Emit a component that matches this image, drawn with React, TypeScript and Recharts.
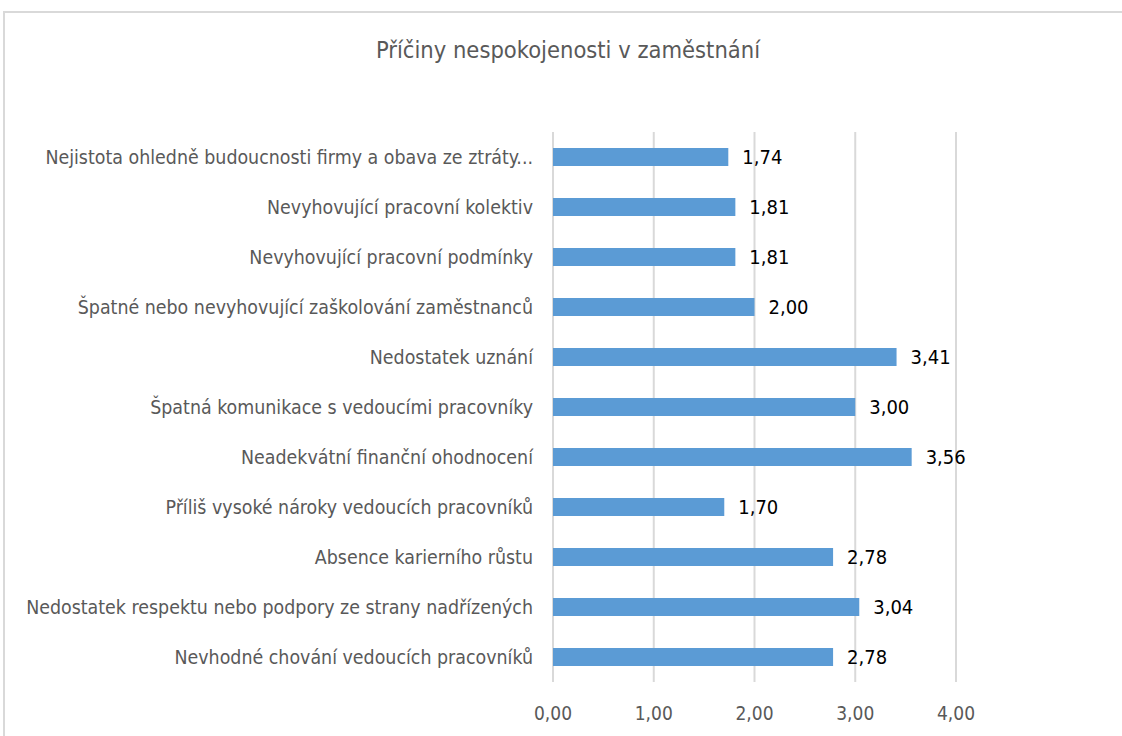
import React from 'react';
import { BarChart, Bar, XAxis, YAxis, CartesianGrid, LabelList } from 'recharts';

// Reasons for job dissatisfaction, top-to-bottom as shown in the chart
const categories = [
  'Nejistota ohledně budoucnosti firmy a obava ze ztráty...',
  'Nevyhovující pracovní kolektiv',
  'Nevyhovující pracovní podmínky',
  'Špatné nebo nevyhovující zaškolování zaměstnanců',
  'Nedostatek uznání',
  'Špatná komunikace s vedoucími pracovníky',
  'Neadekvátní finanční ohodnocení',
  'Příliš vysoké nároky vedoucích pracovníků',
  'Absence karierního růstu',
  'Nedostatek respektu nebo podpory ze strany nadřízených',
  'Nevhodné chování vedoucích pracovníků',
];

const scores = [1.74, 1.81, 1.81, 2.0, 3.41, 3.0, 3.56, 1.7, 2.78, 3.04, 2.78];

const xTicks = [0, 1, 2, 3, 4];

const data = categories.map((name, i) => ({ name, value: scores[i] }));

const FONT = '"Liberation Sans Narrow", "DejaVu Sans Condensed", sans-serif';

const fmt = (v: number) => v.toFixed(2).replace('.', ',');

const App: React.FC = () => {
  return (
    <div style={{ position: 'absolute', left: 0, top: 0, width: 1122, height: 736, background: '#fff', fontFamily: FONT }}>
      {/* chart frame (only top and left edges are visible) */}
      <div
        style={{
          position: 'absolute',
          left: 3,
          top: 11,
          width: 1119,
          height: 725,
          borderTop: '2px solid #d9d9d9',
          borderLeft: '2px solid #d9d9d9',
          boxSizing: 'border-box',
        }}
      />
      <div
        style={{
          position: 'absolute',
          top: 36,
          left: 0,
          width: 1136,
          textAlign: 'center',
          fontSize: 23.5,
          color: '#595959',
        }}
      >
        Příčiny nespokojenosti v zaměstnání
      </div>
      <BarChart
        width={1122}
        height={736}
        data={data}
        layout="vertical"
        margin={{ top: 132, right: 166, bottom: 0, left: 0 }}
        style={{ position: 'absolute', left: 0, top: 0 }}
      >
        <CartesianGrid horizontal={false} stroke="#d9d9d9" strokeWidth={2} />
        <XAxis
          type="number"
          domain={[0, 4]}
          ticks={xTicks}
          tickFormatter={fmt}
          axisLine={false}
          tickLine={false}
          tickMargin={19}
          height={54}
          tick={{ fill: '#595959', fontSize: 19, fontFamily: FONT }}
        />
        <YAxis
          type="category"
          dataKey="name"
          width={553}
          axisLine={false}
          tickLine={false}
          tickMargin={14}
          interval={0}
          tick={{ fill: '#595959', fontSize: 19.4, fontFamily: FONT }}
        />
        <Bar dataKey="value" fill="#5b9bd5" barSize={18} isAnimationActive={false}>
          <LabelList
            dataKey="value"
            position="right"
            offset={14}
            formatter={(v: any) => fmt(Number(v))}
            style={{ fill: '#000', fontSize: 20, fontFamily: FONT }}
          />
        </Bar>
      </BarChart>
    </div>
  );
};

export default App;
